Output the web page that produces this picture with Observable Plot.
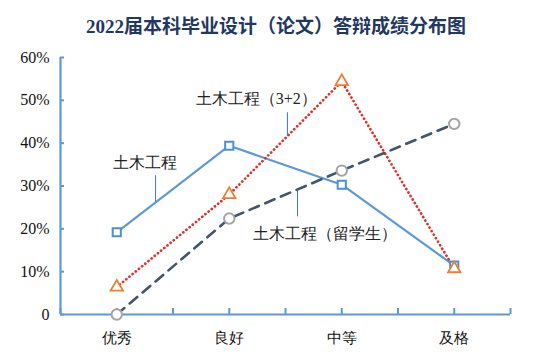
<!DOCTYPE html>
<html>
<head>
<meta charset="utf-8">
<script src="https://cdn.jsdelivr.net/npm/d3@7"></script>
<script src="https://cdn.jsdelivr.net/npm/@observablehq/plot@0.6"></script>
<style>
  body { margin: 0; background: #fff; }
  #title { height: 45px; line-height: 54px; text-align: center; padding-left: 14px; box-sizing: border-box;
    font-family: "Times New Roman", "Liberation Serif", "Noto Sans CJK SC", serif; font-weight: bold; font-size: 19px; color: #1f3864; width: 538px; }
</style>
</head>
<body>
<div id="title">2022届本科毕业设计（论文）答辩成绩分布图</div>
<div id="chart"></div>
<script>
const categories = ["优秀", "良好", "中等", "及格"];
const seriesNames = ["土木工程", "土木工程（3+2）", "土木工程（留学生）"];
const civil = [19.2, 39.4, 30.3, 11.4];
const civil32 = [6.4, 28.0, 54.4, 10.7];
const civilIntl = [0.0, 22.4, 33.6, 44.5];
const yTicks = [0, 10, 20, 30, 40, 50, 60];
const xTicks = [-0.5, 0, 0.5, 1, 1.5, 2, 2.5, 3, 3.5];

// label annotations: text, text x/y (in data units), leader x, leader top, leader bottom
const labelText = seriesNames;
const labelX = [0.255, 1.24, 1.21];
const labelY = [35.4, 50.3, 18.9];
const labelAnchor = ["middle", "middle", "start"];
const leaderX = [0.345, 1.517, 1.607];
const leaderY1 = [32.4, 47.1, 29.0];
const leaderY2 = [26.2, 41.5, 22.8];

const rows = (vals) => vals.map((v, i) => ({i, v}));
const labels = labelText.map((t, k) => ({t, x: labelX[k], y: labelY[k], a: labelAnchor[k]}));
const leaders = leaderX.map((x, k) => ({x, y1: leaderY1[k], y2: leaderY2[k]}));

const serif = "'Times New Roman', 'Liberation Serif', serif";
const axisBlue = "#5b9bd5";

const chart = Plot.plot({
  width: 538,
  height: 311,
  marginTop: 12,
  marginBottom: 42,
  marginLeft: 60,
  marginRight: 28,
  style: {fontSize: "15px", color: "#111", background: "#fff"},
  x: {type: "linear", domain: [-0.5, 3.5], axis: null},
  y: {domain: [0, 60], axis: null},
  marks: [
    Plot.axisY({ticks: yTicks, tickFormat: d => d === 0 ? "0" : d + "%", tickSize: -4, tickPadding: 15,
      stroke: axisBlue, strokeWidth: 2, fill: "#111", fontSize: 16, label: null}),
    Plot.axisX({ticks: xTicks, tickFormat: d => Number.isInteger(d) ? categories[d] : "", tickSize: -6, tickPadding: 24,
      stroke: axisBlue, strokeWidth: 2, fill: "#111", fontSize: 15, label: null}),
    Plot.ruleY([0], {stroke: axisBlue, strokeWidth: 2.2}),
    Plot.ruleX([-0.5], {y1: 0, y2: 60, stroke: axisBlue, strokeWidth: 2.2}),
    Plot.lineY(rows(civil), {x: "i", y: "v", stroke: "#5b9bd5", strokeWidth: 2.2}),
    Plot.lineY(rows(civil32), {x: "i", y: "v", stroke: "#e0302a", strokeWidth: 2.7, strokeDasharray: "0.1 4", strokeLinecap: "round"}),
    Plot.lineY(rows(civilIntl), {x: "i", y: "v", stroke: "#44546a", strokeWidth: 2.6, strokeDasharray: "10 7"}),
    Plot.dot(rows(civil), {x: "i", y: "v", symbol: "square", r: 4.6, stroke: "#4a90d9", strokeWidth: 2, fill: "#fff"}),
    Plot.dot(rows(civil32), {x: "i", y: "v", symbol: "triangle", r: 4.6, stroke: "#ed7d31", strokeWidth: 1.8, fill: "#fff"}),
    Plot.dot(rows(civilIntl), {x: "i", y: "v", symbol: "circle", r: 5.2, stroke: "#a5a5a5", strokeWidth: 2, fill: "#fff"}),
    Plot.ruleX(leaders, {x: "x", y1: "y1", y2: "y2", stroke: "#4472c4", strokeWidth: 1}),
    Plot.text(labels.filter(d => d.a === "middle"), {x: "x", y: "y", text: "t", fontSize: 16, fill: "#222", textAnchor: "middle"}),
    Plot.text(labels.filter(d => d.a === "start"), {x: "x", y: "y", text: "t", fontSize: 16, fill: "#222", textAnchor: "start"})
  ]
});
chart.style.fontFamily = serif;
chart.querySelectorAll("text, g").forEach(el => { el.style.fontFamily = serif; });
document.getElementById("chart").appendChild(chart);
</script>
</body>
</html>
